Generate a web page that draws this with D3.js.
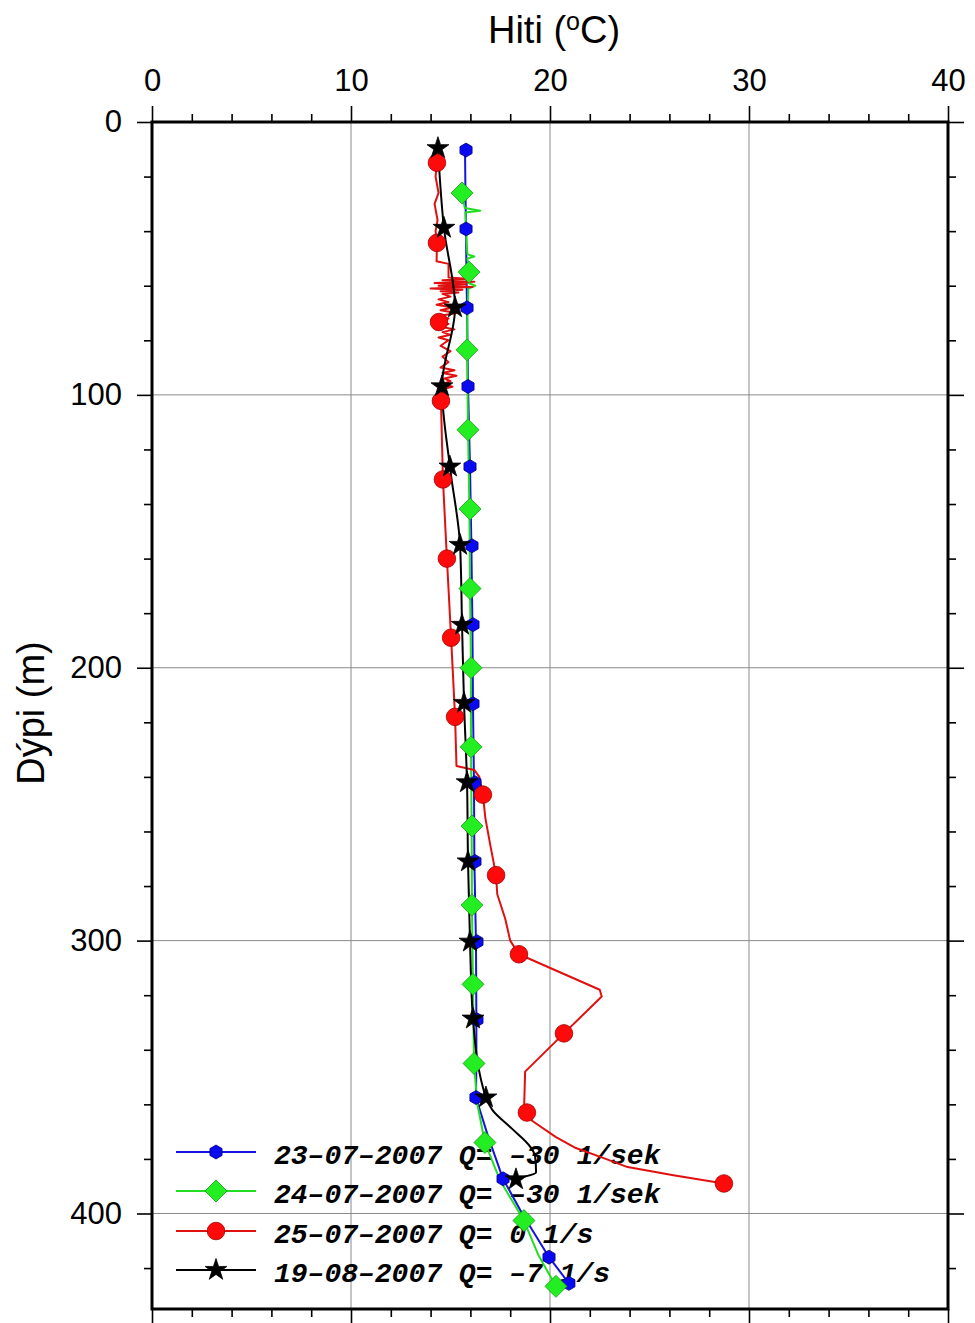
<!DOCTYPE html>
<html>
<head>
<meta charset="utf-8">
<script src="https://cdn.jsdelivr.net/npm/d3@7"></script>
<style>
  html, body { margin: 0; padding: 0; background: #ffffff; }
  svg { display: block; }
</style>
</head>
<body>
<svg id="chart" width="975" height="1323"></svg>
<script>
// ---------------- DATA ----------------
const tempTicks = [0, 10, 20, 30, 40];
const depthTicks = [0, 100, 200, 300, 400];
const tempMinorTicks = [2, 4, 6, 8, 12, 14, 16, 18, 22, 24, 26, 28, 32, 34, 36, 38];
const depthMinorTicks = [20, 40, 60, 80, 120, 140, 160, 180, 220, 240, 260, 280, 320, 340, 360, 380, 420];

const seriesNames = [
  "23\u201307\u20132007 Q= \u201330 1/sek",
  "24\u201307\u20132007 Q= \u201330 1/sek",
  "25\u201307\u20132007 Q= 0 1/s",
  "19\u201308\u20132007 Q= \u20137 1/s"
];

// [depth (m), temperature (°C)]
const blueMarkers = [[10.3,15.78],[39.2,15.78],[68.1,15.83],[96.9,15.88],[126.3,15.98],[155.3,16.08],[184.2,16.13],[213.2,16.13],[242.1,16.23],[271,16.23],[300.4,16.33],[329,16.33],[357.5,16.28],[387.3,17.64],[416,19.95],[425.6,20.95]];
const blueLine = [[10.3,15.73],[25,15.75],[39.2,15.78],[55,15.8],[68.1,15.83],[96.9,15.88],[126.3,15.98],[155.3,16.05],[184.2,16.1],[213.2,16.13],[242.1,16.18],[271,16.2],[300.4,16.28],[329,16.3],[345,16.3],[357.5,16.28],[372,16.9],[387.3,17.64],[400,18.6],[416,19.95],[425.6,20.95]];

const greenMarkers = [[26,15.58],[55,15.93],[83.5,15.83],[112.8,15.88],[141.8,15.98],[171,15.98],[200,16.03],[229,16.03],[258,16.08],[287,16.08],[316,16.13],[345,16.18],[374,16.73],[402.6,18.69],[426.7,20.3]];
const greenLine = [[26,15.58],[31.5,15.72],[32.5,16.5],[33.2,15.75],[40,15.78],[48.5,15.85],[49.3,16.2],[50,15.85],[55,15.93],[59,15.9],[60,16.25],[61,15.9],[70,15.85],[83.5,15.83],[112.8,15.88],[141.8,15.95],[171,15.98],[200,16.03],[229,16.03],[258,16.06],[287,16.08],[316,16.13],[345,16.18],[360,16.35],[374,16.73],[388,17.5],[402.6,18.69],[415,19.4],[426.7,20.3]];

const redMarkers = [[14.9,14.32],[44.3,14.32],[73.3,14.42],[102.2,14.52],[131,14.62],[160,14.82],[189,15.03],[218,15.23],[246.5,16.63],[276,17.29],[305,18.44],[334,20.7],[363,18.84],[389,28.74]];
const redLine = [[14.9,14.32],[20,14.25],[26,14.4],[30,14.2],[36,14.35],[40,14.25],[44.3,14.32],[51,14.3],[52,14.9],[57,14.9],
  [57.5,16.0],[58,14.6],[58.5,16.2],[59,14.2],[59.5,15.8],[60,14.4],[60.5,16.1],[61,14.0],[61.5,15.6],[62,14.5],[62.5,15.4],[63,14.6],
  [64,15.0],[65,14.4],[66,14.9],[67,14.3],[68,15.1],[69,14.5],[70,15.3],[71,14.5],[72,14.9],[73.3,14.42],
  [74,14.9],[75,14.5],[76,15.2],[77,14.6],[78,15.0],[79,14.4],[80,14.9],[82,14.5],[84,15.0],[86,14.6],[88,14.9],[90,14.5],[91,15.2],[92,14.6],[93,15.3],[94,14.7],[95,15.0],[96,14.6],[97,15.1],[98,14.5],[100,14.7],
  [102.2,14.52],[131,14.62],[160,14.82],[189,15.03],[218,15.23],[236,15.3],[237.5,16.2],[240,16.45],[246.5,16.63],[255,16.75],[265,17.0],[276,17.29],[283,17.35],[292,17.75],[300,18.0],[305,18.44],[318,22.5],[320.5,22.6],[334,20.7],[348,18.75],[361,18.7],[363,18.84],[366,19.1],[372,20.3],[376,21.3],[380,22.8],[383,23.9],[386,26.2],[389,28.74]];

const blackMarkers = [[9.6,14.37],[38.8,14.67],[68,15.23],[96.9,14.57],[126.3,14.97],[155,15.48],[184.3,15.58],[212.9,15.68],[242,15.83],[271,15.88],[300.4,15.98],[328.6,16.13],[357.5,16.78],[387.5,18.29]];
const blackLine = [[9.6,14.37],[38.8,14.67],[68,15.23],[96.9,14.57],[126.3,14.97],[155,15.48],[184.3,15.58],[212.9,15.68],[242,15.83],[271,15.88],[300.4,15.98],[328.6,16.13],[357.5,16.78],[362,17.1],[369,18.1],[375.5,19.0],[379,19.25],[385,19.3],[387.5,18.29],[390,18.04]];

// ---------------- LAYOUT ----------------
const svg = d3.select("#chart");
const mLeft = 152, mRight = 948, mTop = 122, mBottom = 1309;
const x = d3.scaleLinear().domain([0, 40]).range([mLeft, mRight]);
const y = d3.scaleLinear().domain([0, 435]).range([mTop, mBottom]);
const sansFont = "'Liberation Sans', Arial, Helvetica, sans-serif";

// grid
const grid = svg.append("g").attr("stroke", "#8a8a8a").attr("stroke-width", 1);
grid.selectAll(".gx").data(tempTicks.filter(t => t > 0 && t < 40)).join("line")
  .attr("x1", d => x(d)).attr("x2", d => x(d)).attr("y1", mTop).attr("y2", mBottom);
grid.selectAll(".gy").data(depthTicks.filter(t => t > 0)).join("line")
  .attr("x1", mLeft).attr("x2", mRight).attr("y1", d => y(d)).attr("y2", d => y(d));

// axes
function styleAxis(g, labels) {
  g.select(".domain").remove();
  g.selectAll(".tick line").attr("stroke", "#000").attr("stroke-width", 1.6);
  g.selectAll(".tick text").attr("font-family", sansFont).attr("font-size", 31).attr("fill", "#000");
  if (!labels) g.selectAll(".tick text").remove();
}
svg.append("g").attr("transform", `translate(0,${mTop})`)
  .call(d3.axisTop(x).tickValues(tempTicks).tickSize(16).tickPadding(15).tickFormat(d3.format("d")))
  .call(g => styleAxis(g, true));
svg.append("g").attr("transform", `translate(0,${mTop})`)
  .call(d3.axisTop(x).tickValues(tempMinorTicks).tickSize(8).tickFormat(""))
  .call(g => styleAxis(g, false));
svg.append("g").attr("transform", `translate(0,${mBottom})`)
  .call(d3.axisBottom(x).tickValues(tempTicks).tickSize(16).tickFormat(""))
  .call(g => styleAxis(g, false));
svg.append("g").attr("transform", `translate(0,${mBottom})`)
  .call(d3.axisBottom(x).tickValues(tempMinorTicks).tickSize(8).tickFormat(""))
  .call(g => styleAxis(g, false));
svg.append("g").attr("transform", `translate(${mLeft},0)`)
  .call(d3.axisLeft(y).tickValues(depthTicks).tickSize(15).tickPadding(15).tickFormat(d3.format("d")))
  .call(g => styleAxis(g, true));
svg.append("g").attr("transform", `translate(${mLeft},0)`)
  .call(d3.axisLeft(y).tickValues(depthMinorTicks).tickSize(8).tickFormat(""))
  .call(g => styleAxis(g, false));
svg.append("g").attr("transform", `translate(${mRight},0)`)
  .call(d3.axisRight(y).tickValues(depthTicks).tickSize(16).tickFormat(""))
  .call(g => styleAxis(g, false));
svg.append("g").attr("transform", `translate(${mRight},0)`)
  .call(d3.axisRight(y).tickValues(depthMinorTicks).tickSize(8).tickFormat(""))
  .call(g => styleAxis(g, false));

// frame
svg.append("rect").attr("x", mLeft).attr("y", mTop).attr("width", mRight - mLeft).attr("height", mBottom - mTop)
  .attr("fill", "none").attr("stroke", "#000").attr("stroke-width", 3);

// titles
const title = svg.append("text").attr("x", 554).attr("y", 43).attr("text-anchor", "middle")
  .attr("font-family", sansFont).attr("font-size", 38).attr("fill", "#000");
title.append("tspan").text("Hiti (");
title.append("tspan").attr("font-size", 25).attr("dy", -13).text("o");
title.append("tspan").attr("dy", 13).text("C)");
svg.append("text").attr("transform", "translate(44,713) rotate(-90)").attr("text-anchor", "middle")
  .attr("font-family", sansFont).attr("font-size", 38).attr("fill", "#000").text("D\u00fdpi (m)");

// symbols
const hexagon = { draw(ctx, size) { const r = Math.sqrt(size / 2.598); for (let i = 0; i < 6; i++) { const a = Math.PI / 6 + i * Math.PI / 3; const px = r * Math.cos(a), py = r * Math.sin(a); i ? ctx.lineTo(px, py) : ctx.moveTo(px, py); } ctx.closePath(); } };
const diamond = { draw(ctx, size) { const r = Math.sqrt(size / 2); ctx.moveTo(0, -r); ctx.lineTo(r, 0); ctx.lineTo(0, r); ctx.lineTo(-r, 0); ctx.closePath(); } };

const styles = [
  { line: "#1414dc", fill: "#0a0af0", stroke: "#00007a", sym: d3.symbol().type(hexagon).size(2.598 * 7 * 7)(), lineData: blueLine, markers: blueMarkers, curve: d3.curveLinear },
  { line: "#22dd22", fill: "#22ee22", stroke: "#159915", sym: d3.symbol().type(diamond).size(2 * 11 * 11)(), lineData: greenLine, markers: greenMarkers, curve: d3.curveLinear },
  { line: "#e01010", fill: "#ff0a0a", stroke: "#a00000", sym: d3.symbol().type(d3.symbolCircle).size(Math.PI * 8.8 * 8.8)(), lineData: redLine, markers: redMarkers, curve: d3.curveLinear },
  { line: "#000000", fill: "#000000", stroke: "#000000", sym: d3.symbol().type(d3.symbolStar).size(11.5 * 11.5 / 0.8908130915292852)(), lineData: blackLine, markers: blackMarkers, curve: d3.curveMonotoneY }
];

// legend (drawn under the data)
const legendRows = [1152, 1191, 1231, 1270];
const legend = svg.append("g");
styles.forEach((s, i) => {
  const ly = legendRows[i];
  legend.append("line").attr("x1", 176).attr("x2", 256).attr("y1", ly).attr("y2", ly)
    .attr("stroke", s.line).attr("stroke-width", 2);
  legend.append("path").attr("d", s.sym).attr("transform", `translate(216,${ly})`)
    .attr("fill", s.fill).attr("stroke", s.stroke).attr("stroke-width", 0.8);
  legend.append("text").attr("x", 274).attr("y", ly + 11.5)
    .attr("font-family", "'Liberation Mono', 'Courier New', monospace")
    .attr("font-style", "italic").attr("font-weight", "bold").attr("font-size", 28)
    .attr("fill", "#000").attr("xml:space", "preserve").style("white-space", "pre")
    .text(seriesNames[i]);
});

// data lines and markers
const plot = svg.append("g");
styles.forEach(s => {
  const lineGen = d3.line().x(d => x(d[1])).y(d => y(d[0])).curve(s.curve);
  plot.append("path").datum(s.lineData).attr("d", lineGen)
    .attr("fill", "none").attr("stroke", s.line).attr("stroke-width", 2).attr("stroke-linejoin", "round");
});
styles.forEach(s => {
  plot.append("g").selectAll("path").data(s.markers).join("path")
    .attr("d", s.sym)
    .attr("transform", d => `translate(${x(d[1])},${y(d[0])})`)
    .attr("fill", s.fill).attr("stroke", s.stroke).attr("stroke-width", 0.8);
});
</script>
</body>
</html>
